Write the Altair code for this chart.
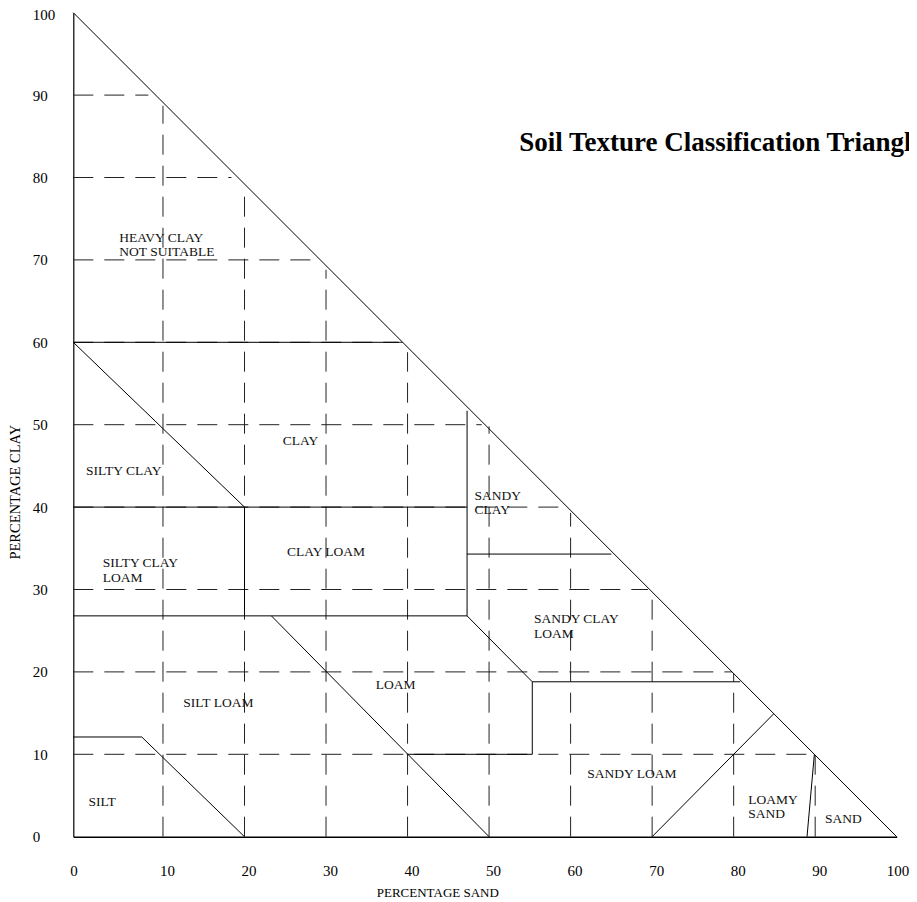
import altair as alt
import pandas as pd

# ---------------- data ----------------
# The plot's left edge (clay axis line) sits at sand = -1 on the drawn scale.
sand_domain = [-1, 100]
clay_domain = [0, 100]

x_tick_values = [-1, 10, 20, 30, 40, 50, 60, 70, 80, 90, 100]
y_tick_values = [0, 10, 20, 30, 40, 50, 60, 70, 80, 90, 100]

# solid boundary segments: (sand1, clay1) -> (sand2, clay2)
seg_sand1 = [-1, -1, -1, -1, 20, 47.3, 47.3, -1, 47.3, 55.3, 55.3, 39.9, 23.3, -1, 7.4, 70, 89.0]
seg_clay1 = [100, 60, 60, 40, 40, 51.7, 34.3, 26.8, 26.8, 18.8, 18.8, 10, 26.8, 12.1, 12.1, 0, 0]
seg_sand2 = [100, 38.9, 20, 47.3, 20, 47.3, 65.0, 47.3, 55.3, 80.8, 55.3, 55.3, 50, 7.4, 20, 84.9, 89.9]
seg_clay2 = [0, 60, 40, 40, 26.8, 26.8, 34.3, 26.8, 18.8, 18.8, 10, 10, 0, 12.1, 0, 14.9, 10]

# dashed horizontal guide lines (clay level, sand where it stops)
hdash_clay = [10, 20, 30, 40, 50, 60, 70, 80, 90]
hdash_end = [89.7, 79.8, 69.5, 59.1, 49.1, 39.4, 29.3, 18.4, 8.2]

# dashed vertical guide lines (sand level, clay where it stops)
vdash_sand = [10, 20, 30, 40, 50, 60, 70, 80, 90]
vdash_top = [88.7, 78.6, 68.8, 58.8, 49.8, 39.3, 29.5, 19.8, 9.9]

# class labels
label_text = ["HEAVY CLAY\nNOT SUITABLE", "SILTY CLAY", "CLAY", "SILTY CLAY\nLOAM",
              "CLAY LOAM", "SANDY\nCLAY", "SANDY CLAY\nLOAM", "LOAM", "SILT LOAM",
              "SILT", "SANDY LOAM", "LOAMY\nSAND", "SAND"]
label_sand = [4.65, 0.56, 24.7, 2.6, 25.2, 48.2, 55.5, 36.1, 12.5, 0.85, 62.05, 81.8, 91.2]
label_clay = [72.7, 44.4, 48.0, 33.2, 34.5, 41.4, 26.4, 18.4, 16.2, 4.2, 7.6, 4.5, 2.2]

title_text = ["Soil Texture Classification Triangle"]
title_sand = [53.7]
title_clay = [84.2]

# ---------------- tables ----------------
segs = pd.DataFrame({"s1": seg_sand1, "c1": seg_clay1, "s2": seg_sand2, "c2": seg_clay2})
hd = pd.DataFrame({"s1": [-1] * len(hdash_clay), "c1": hdash_clay, "s2": hdash_end, "c2": hdash_clay})
vd = pd.DataFrame({"s1": vdash_sand, "c1": [0] * len(vdash_sand), "s2": vdash_sand, "c2": vdash_top})
dashes = pd.concat([hd, vd], ignore_index=True)
labels = pd.DataFrame({"t": label_text, "s": label_sand, "c": label_clay})
titled = pd.DataFrame({"t": title_text, "s": title_sand, "c": title_clay})

FONT = "Liberation Serif"

xscale = alt.Scale(domain=sand_domain, nice=False, zero=False)
yscale = alt.Scale(domain=clay_domain, nice=False, zero=False)

xaxis = alt.Axis(values=x_tick_values, labelExpr="datum.value < 0 ? '0' : datum.label",
                 labelAlign="left",
                 labelOffset={"condition": {"test": "datum.value >= 100", "value": -10.5},
                              "value": -3.5},
                 labelBaseline="middle", labelPadding=34,
                 labelFlush=False, labelOverlap=False, ticks=False, tickSize=0, grid=False,
                 domainColor="black", domainWidth=1.6, labelFont=FONT, labelFontSize=15,
                 labelColor="black", title="PERCENTAGE SAND", titleFont=FONT, titleFontSize=13,
                 titleFontWeight="normal", titleColor="black", titleX=364, titleY=56,
                 titleAlign="center", titleBaseline="middle")
yaxis = alt.Axis(values=y_tick_values, labelAlign="left", labelPadding=41, labelBaseline="middle",
                 labelOffset={"condition": {"test": "datum.value >= 100", "value": 1.5},
                              "value": 0},
                 labelFlush=False, labelOverlap=False, ticks=False, tickSize=0, grid=False,
                 domainColor="black", domainWidth=1.2, labelFont=FONT, labelFontSize=15,
                 labelColor="black", title="PERCENTAGE CLAY", titleFont=FONT, titleFontSize=14.5,
                 titleFontWeight="normal", titleColor="black", titleX=-57.6, titleY=479,
                 titleAngle=270, titleAlign="center", titleBaseline="middle")


def X(f):
    return alt.X(f, type="quantitative", scale=xscale, axis=xaxis)


def Y(f):
    return alt.Y(f, type="quantitative", scale=yscale, axis=yaxis)


dash_layer = alt.Chart(dashes).mark_rule(color="#222", strokeWidth=1, strokeDash=[20, 11]).encode(
    x=X("s1"), y=Y("c1"), x2="s2", y2="c2")

seg_layer = alt.Chart(segs).mark_rule(color="black", strokeWidth=1).encode(
    x=X("s1"), y=Y("c1"), x2="s2", y2="c2")

label_layer = alt.Chart(labels).mark_text(
    align="left", baseline="middle", font=FONT, fontSize=13.5, color="#111",
    lineBreak="\n", lineHeight=14.5).encode(x=X("s"), y=Y("c"), text="t:N")

title_layer = alt.Chart(titled).mark_text(
    align="left", baseline="middle", font=FONT, fontSize=27, fontWeight="bold",
    color="black").encode(x=X("s"), y=Y("c"), text="t:N")

# total SVG width kept at 901 px (the page's content width) so it is not rescaled
chart = alt.layer(dash_layer, seg_layer, label_layer, title_layer).properties(
    width=823.4, height=824,
    padding={"left": 65.3, "top": 4.7, "right": 12.3, "bottom": 63.3},
    autosize=alt.AutoSizeParams(type="none"),
    background="white",
).configure_view(stroke=None)

chart.save("out.html", embed_options={"renderer": "svg", "actions": False})
